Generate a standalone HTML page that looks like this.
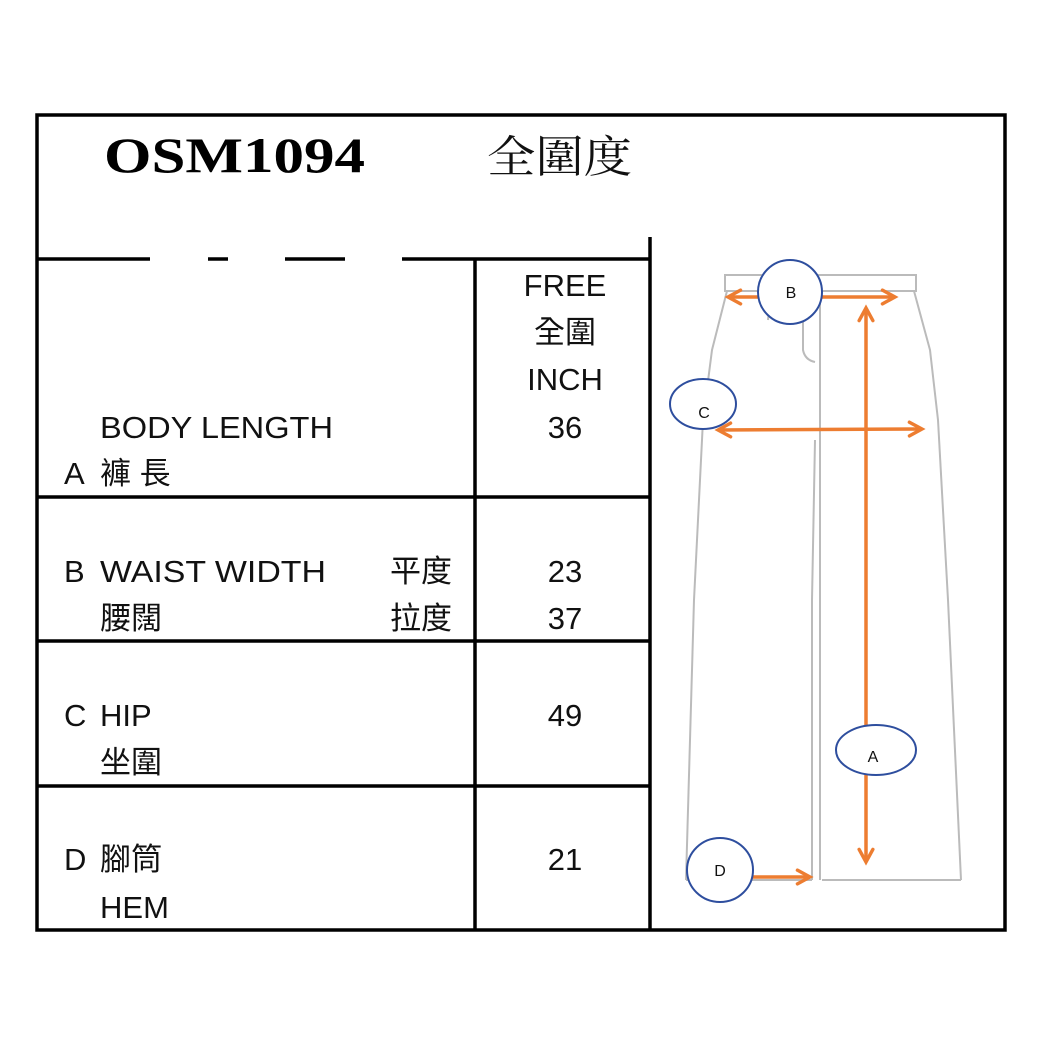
<!DOCTYPE html>
<html><head><meta charset="utf-8"><style>
html,body{margin:0;padding:0;background:#fff;}
svg{display:block;}
.t{font-family:"Liberation Sans","Noto Sans CJK TC",sans-serif;font-size:31px;fill:#111;}
.c{font-family:"Liberation Sans","Noto Sans CJK TC",sans-serif;font-size:31px;fill:#111;}
</style></head><body>
<svg width="1045" height="1045" viewBox="0 0 1045 1045" xmlns="http://www.w3.org/2000/svg">
<rect x="0" y="0" width="1045" height="1045" fill="#fff"/>
<defs>
<marker id="ah" viewBox="0 0 14 14" refX="12" refY="7" markerWidth="16" markerHeight="16" orient="auto-start-reverse" markerUnits="userSpaceOnUse" style="overflow:visible">
<path d="M1,1 L12,7 L1,13" fill="none" stroke="#ED7D31" stroke-width="3" stroke-linecap="round"/>
</marker>
</defs>
<rect x="37" y="115" width="968" height="815" fill="none" stroke="#000" stroke-width="3.5"/>
<g stroke="#000" stroke-width="3.5">
<line x1="37" y1="259" x2="150" y2="259"/>
<line x1="208" y1="259" x2="228" y2="259"/>
<line x1="285" y1="259" x2="345" y2="259"/>
<line x1="402" y1="259" x2="650" y2="259"/>
<line x1="650" y1="237" x2="650" y2="931"/>
<line x1="475" y1="259" x2="475" y2="931"/>
<line x1="37" y1="497" x2="650" y2="497"/>
<line x1="37" y1="641" x2="650" y2="641"/>
<line x1="37" y1="786" x2="650" y2="786"/>
</g>
<text x="104" y="172" textLength="261" lengthAdjust="spacingAndGlyphs" style="font-family:'Liberation Serif',serif;font-weight:bold;font-size:50px;fill:#000">OSM1094</text>
<text x="487" y="172" textLength="145" lengthAdjust="spacingAndGlyphs" style="font-family:'Liberation Serif','Noto Serif CJK SC',serif;font-size:44px;fill:#111">全圍度</text>
<g class="c" text-anchor="middle">
<text x="565" y="296">FREE</text>
<text x="565" y="343">全圍</text>
<text x="565" y="390">INCH</text>
<text x="565" y="438">36</text>
<text x="565" y="582">23</text>
<text x="565" y="629">37</text>
<text x="565" y="726">49</text>
<text x="565" y="870">21</text>
</g>
<g class="t">
<text x="100" y="438" textLength="233" lengthAdjust="spacingAndGlyphs">BODY LENGTH</text>
<text x="64" y="484">A</text><text x="100" y="484">褲 長</text>
<text x="64" y="582">B</text><text x="100" y="582" textLength="226" lengthAdjust="spacingAndGlyphs">WAIST WIDTH</text>
<text x="390" y="582">平度</text>
<text x="100" y="629">腰闊</text>
<text x="390" y="629">拉度</text>
<text x="64" y="726">C</text><text x="100" y="726">HIP</text>
<text x="100" y="773">坐圍</text>
<text x="64" y="870">D</text><text x="100" y="870">腳筒</text>
<text x="100" y="918">HEM</text>
</g>
<g fill="none" stroke="#bbb" stroke-width="2">
<rect x="725" y="275" width="191" height="16"/>
<path d="M727,291 L712,350 L703,420 L694,600 L686,880"/>
<path d="M914,291 L930,350 L938,420 L948,600 L961,880"/>
<path d="M686,880 L812,880 M822,880 L961,880"/>
<path d="M820,291 L820,880"/>
<path d="M812,880 L812,600 L815,440"/>
<path d="M770,300 L768,320 M803,300 L803,350 Q805,360 815,362"/>
</g>
<g stroke="#ED7D31" stroke-width="3.5" fill="none">
<line x1="728" y1="297" x2="895" y2="297" marker-start="url(#ah)" marker-end="url(#ah)"/>
<line x1="866" y1="308" x2="866" y2="862" marker-start="url(#ah)" marker-end="url(#ah)"/>
<line x1="718" y1="430" x2="922" y2="429" marker-start="url(#ah)" marker-end="url(#ah)"/>
<line x1="750" y1="877" x2="810" y2="877" marker-end="url(#ah)"/>
</g>
<g stroke="#2E4E9E" stroke-width="2" fill="#fff">
<circle cx="790" cy="292" r="32"/>
<ellipse cx="703" cy="404" rx="33" ry="25"/>
<ellipse cx="876" cy="750" rx="40" ry="25"/>
<ellipse cx="720" cy="870" rx="33" ry="32"/>
</g>
<g style="font-family:'Liberation Sans',sans-serif;font-size:16px;fill:#111" text-anchor="middle">
<text x="791" y="298">B</text>
<text x="704" y="418">C</text>
<text x="873" y="762">A</text>
<text x="720" y="876">D</text>
</g>
</svg>
</body></html>
